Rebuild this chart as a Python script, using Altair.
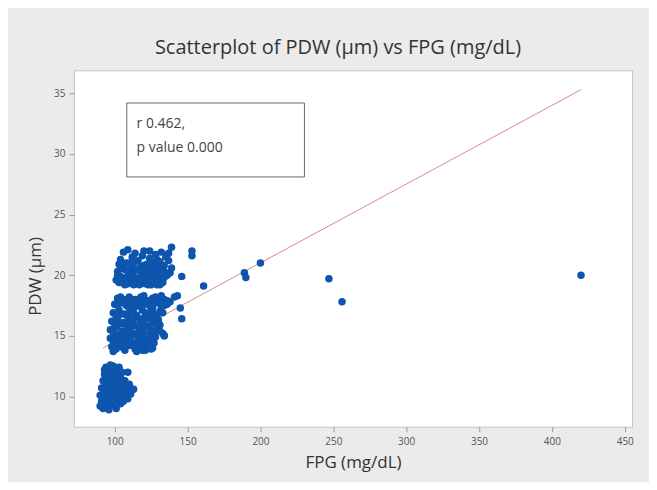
import altair as alt
import pandas as pd

# ---- data ----
low_fpg = [90, 92, 95, 98, 101, 104, 96, 91, 94, 97, 100, 103, 106, 109, 90, 93, 96, 99, 102, 105,
           108, 112, 91, 94, 97, 100, 103, 106, 110, 92, 95, 98, 101, 104, 107, 93, 96, 99, 102, 105,
           94, 97, 100, 103, 109, 113, 95, 99, 101, 93,
           92, 95, 98, 101, 104, 107, 111, 93, 96, 99, 102, 105, 108, 95, 98, 101, 104, 96, 99]
low_pdw = [9.2, 9.0, 9.1, 9.3, 9.0, 9.4, 8.9, 9.6, 9.8, 9.5, 9.7, 9.9, 9.6, 9.8, 10.1, 10.3, 10.0, 10.2, 10.4, 10.1,
           10.5, 10.6, 10.7, 10.9, 10.6, 10.8, 11.0, 10.8, 11.0, 11.3, 11.1, 11.4, 11.2, 11.5, 11.3, 11.8, 12.0, 11.7, 11.9, 12.0,
           12.4, 12.6, 12.3, 12.4, 12.0, 10.6, 10.5, 9.4, 11.6, 12.2,
           9.4, 9.6, 9.9, 10.0, 10.3, 10.0, 10.2, 10.5, 10.8, 11.0, 10.7, 11.2, 11.0, 11.6, 11.9, 12.1, 11.8, 12.3, 12.5]

mid_fpg = [102, 106, 110, 114, 118, 122, 126, 130, 134, 138,
           100, 104, 108, 112, 116, 120, 124, 128, 132, 136,
           99, 103, 107, 111, 115, 119, 123, 127, 131,
           98, 102, 106, 110, 114, 118, 122, 126, 130,
           97, 101, 105, 109, 113, 117, 121, 125, 129, 133,
           97, 100, 104, 108, 112, 116, 120, 124, 128, 134,
           98, 102, 106, 110, 114, 118, 122, 126,
           99, 107, 115, 121,
           104, 108, 112, 116, 120, 124, 128, 132, 136,
           102, 106, 110, 114, 118, 122, 126, 130, 134,
           101, 105, 109, 113, 117, 121, 125, 129, 133,
           100, 104, 108, 112, 116, 120, 124, 128, 131,
           99, 103, 107, 111, 115, 119, 123, 127, 131,
           99, 103, 107, 111, 115, 119, 123, 127,
           101, 105, 113, 119, 125]
mid_pdw = [18.1, 17.9, 18.2, 18.0, 18.2, 17.9, 18.1, 17.8, 18.0, 17.8,
           17.6, 17.8, 17.5, 17.9, 17.6, 17.8, 17.5, 17.7, 17.4, 17.6,
           16.9, 17.1, 16.8, 17.0, 16.7, 17.1, 16.9, 16.8, 17.0,
           16.2, 16.4, 16.1, 16.3, 16.5, 16.2, 16.4, 16.1, 16.3,
           15.5, 15.7, 15.4, 15.6, 15.8, 15.5, 15.7, 15.4, 15.6, 15.2,
           14.8, 15.0, 14.7, 14.9, 15.1, 14.8, 15.0, 14.7, 14.9, 15.0,
           14.1, 14.3, 14.0, 14.2, 13.9, 14.1, 14.3, 14.0,
           13.7, 13.8, 13.7, 13.8,
           18.2, 18.0, 17.8, 17.9, 18.3, 17.9, 18.2, 18.3, 17.9,
           17.5, 17.7, 17.3, 17.4, 17.4, 17.6, 17.3, 17.8, 17.5,
           16.6, 16.8, 16.6, 16.9, 16.4, 16.7, 16.6, 16.6, 16.9,
           15.9, 16.0, 15.9, 16.1, 15.9, 16.0, 15.8, 16.0, 15.9,
           15.3, 15.1, 15.2, 15.3, 15.2, 15.3, 15.1, 15.2, 15.4,
           14.5, 14.6, 14.4, 14.6, 14.4, 14.5, 14.6, 14.4,
           13.9, 14.1, 14.2, 13.8, 13.9]

up_fpg = [109, 120, 128, 139, 137, 153, 153,
          104, 112, 116, 124, 131, 135, 119,
          103, 108, 118, 122, 127, 130, 134, 139,
          102, 106, 110, 114, 118, 121, 125, 128, 132, 136,
          101, 104, 108, 112, 116, 120, 124, 127, 131, 146,
          103, 107, 111, 115, 119, 123, 126, 129, 133,
          106, 114, 124, 132,
          110, 114, 125, 129, 137,
          104, 108, 112, 116, 120, 123, 126, 130, 134,
          102, 106, 110, 114, 118, 122, 126, 129, 134, 138,
          105, 109, 113, 117, 121, 125, 131]
up_pdw = [22.1, 22.0, 21.7, 22.3, 21.8, 22.0, 21.6,
          21.3, 21.5, 21.2, 21.4, 21.1, 21.5, 21.6,
          20.9, 21.0, 20.7, 20.9, 21.0, 20.6, 20.8, 20.6,
          20.3, 20.5, 20.2, 20.4, 20.2, 20.5, 20.3, 20.1, 20.4, 20.0,
          19.6, 19.9, 19.8, 20.0, 19.7, 19.9, 19.6, 19.9, 19.7, 19.9,
          19.4, 19.2, 19.5, 19.3, 19.4, 19.2, 19.4, 19.2, 19.4,
          21.9, 21.8, 22.0, 21.9,
          21.0, 21.1, 20.8, 21.3, 21.2,
          20.7, 20.4, 20.7, 20.5, 20.8, 20.2, 20.6, 20.2, 20.3,
          20.0, 19.6, 19.5, 19.8, 19.6, 19.8, 19.5, 19.6, 19.8, 20.2,
          19.4, 19.3, 19.2, 19.2, 19.3, 19.2, 19.2]

out_fpg = [161, 189, 190, 200, 145, 146, 141, 143, 134, 247, 256, 420]
out_pdw = [19.1, 20.2, 19.8, 21.0, 17.3, 16.4, 18.2, 18.3, 15.0, 19.7, 17.8, 20.0]

fit_fpg = [92, 420]
fit_pdw = [14.0, 35.3]

x_ticks = [100, 150, 200, 250, 300, 350, 400, 450]
y_ticks = [10, 15, 20, 25, 30, 35]

box_fpg = [108.3, 230.2]
box_pdw = [34.2, 28.1]
note_lines = ["r 0.462,", "p value 0.000"]
note_fpg = [115, 115]
note_pdw = [32.5, 30.5]

pts = pd.DataFrame({
    "FPG": low_fpg + mid_fpg + up_fpg + out_fpg,
    "PDW": low_pdw + mid_pdw + up_pdw + out_pdw,
})
fit = pd.DataFrame({"FPG": fit_fpg, "PDW": fit_pdw})
box = pd.DataFrame({"x0": [box_fpg[0]], "x1": [box_fpg[1]], "y0": [box_pdw[0]], "y1": [box_pdw[1]]})
notes = pd.DataFrame({"t": note_lines, "FPG": note_fpg, "PDW": note_pdw})

FONT = "Open Sans"
xs = alt.Scale(domain=[72, 455], nice=False, zero=False)
ys = alt.Scale(domain=[7.5, 36.9], nice=False, zero=False)

xax = alt.Axis(values=x_ticks, title="FPG (mg/dL)", grid=False, domain=False,
               tickColor="#9a9a9a", tickSize=5, labelFont=FONT, labelFontSize=10,
               labelColor="#555555", labelPadding=5, titleFont=FONT, titleFontSize=17,
               titleFontWeight="normal", titleColor="#333333", titlePadding=8)
yax = alt.Axis(values=y_ticks, title="PDW (µm)", grid=False, domain=False,
               tickColor="#9a9a9a", tickSize=5, labelFont=FONT, labelFontSize=10,
               labelColor="#555555", labelPadding=4, titleFont=FONT, titleFontSize=17,
               titleFontWeight="normal", titleColor="#333333", titleX=-29, titleY=206)

points = alt.Chart(pts).mark_circle(size=56, color="#0d55ad", opacity=1).encode(
    x=alt.X("FPG:Q", scale=xs, axis=xax),
    y=alt.Y("PDW:Q", scale=ys, axis=yax),
)

line = alt.Chart(fit).mark_line(color="#d98a84", strokeWidth=1).encode(
    x=alt.X("FPG:Q", scale=xs), y=alt.Y("PDW:Q", scale=ys)
)

rect = alt.Chart(box).mark_rect(fill="white", stroke="#666666", strokeWidth=1).encode(
    x=alt.X("x0:Q", scale=xs), x2="x1:Q",
    y=alt.Y("y0:Q", scale=ys), y2="y1:Q",
)

text = alt.Chart(notes).mark_text(align="left", baseline="middle", font=FONT,
                                  fontSize=14, color="#444444").encode(
    x=alt.X("FPG:Q", scale=xs), y=alt.Y("PDW:Q", scale=ys), text="t:N"
)

chart = alt.layer(line, points, rect, text).properties(
    width=559, height=357,
    padding={"left": 66, "top": 62, "right": 17, "bottom": 55},
    autosize=alt.AutoSizeParams(type="none"),
    background="#ebebeb",
    title=alt.TitleParams("Scatterplot of PDW (µm) vs FPG (mg/dL)", font=FONT, fontSize=20,
                          fontWeight="normal", color="#333333", anchor="middle",
                          offset=12, dx=-15),
).configure_view(fill="white", stroke="#c4c4c4")

chart.save("out.html", embed_options={"renderer": "svg", "actions": False})
